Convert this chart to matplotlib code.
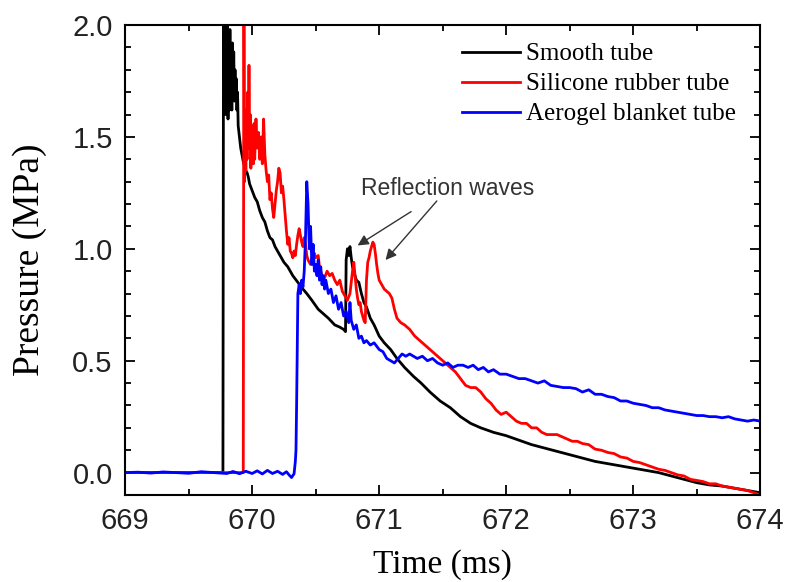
import matplotlib
matplotlib.use('Agg')
import matplotlib.pyplot as plt
from matplotlib.ticker import MultipleLocator

# Smooth tube
smooth_t = [669.00, 669.20, 669.40, 669.60, 669.77, 669.775, 669.78, 669.785, 669.79, 669.795,
            669.80, 669.805, 669.81, 669.815, 669.82, 669.825, 669.83, 669.835, 669.84, 669.845,
            669.85, 669.855, 669.86, 669.865, 669.87, 669.875, 669.88, 669.885, 669.89, 669.90,
            669.91, 669.92, 669.93, 669.94, 669.95, 669.96, 669.97, 669.98, 670.00, 670.02,
            670.04, 670.06, 670.08, 670.10, 670.12, 670.14, 670.16, 670.18, 670.20, 670.22,
            670.25, 670.28, 670.32, 670.36, 670.40, 670.43, 670.47, 670.52, 670.56, 670.60,
            670.65, 670.69, 670.72, 670.735, 670.74, 670.75, 670.76, 670.77, 670.78, 670.79,
            670.80, 670.82, 670.84, 670.86, 670.88, 670.90, 670.93, 670.96, 671.00, 671.04,
            671.09, 671.14, 671.20, 671.27, 671.33, 671.40, 671.48, 671.56, 671.64, 671.72,
            671.80, 671.90, 672.00, 672.10, 672.20, 672.30, 672.40, 672.50, 672.60, 672.70,
            672.80, 672.90, 673.00, 673.10, 673.20, 673.30, 673.40, 673.50, 673.60, 673.70,
            673.80, 673.90, 674.00]
smooth_p = [0.00, 0.00, 0.00, 0.00, 0.00, 2.30, 1.75, 2.10, 1.60, 1.95,
            1.65, 2.05, 1.58, 1.90, 1.62, 1.98, 1.70, 1.85, 1.62, 1.92,
            1.70, 1.88, 1.66, 1.80, 1.68, 1.76, 1.62, 1.70, 1.55, 1.50,
            1.45, 1.42, 1.39, 1.37, 1.35, 1.34, 1.32, 1.29, 1.26, 1.23,
            1.21, 1.17, 1.14, 1.12, 1.08, 1.05, 1.04, 1.01, 0.99, 0.97,
            0.94, 0.92, 0.88, 0.85, 0.82, 0.80, 0.77, 0.73, 0.71, 0.69,
            0.66, 0.65, 0.64, 0.63, 0.95, 1.00, 0.97, 1.01, 0.96, 0.92,
            0.90, 0.86, 0.85, 0.80, 0.76, 0.74, 0.69, 0.66, 0.61, 0.58,
            0.55, 0.51, 0.47, 0.43, 0.40, 0.36, 0.32, 0.29, 0.25, 0.22,
            0.20, 0.18, 0.165, 0.145, 0.125, 0.11, 0.095, 0.08, 0.065, 0.05,
            0.04, 0.03, 0.02, 0.01, 0.00, -0.015, -0.03, -0.045, -0.055, -0.06,
            -0.07, -0.08, -0.09]

# Silicone rubber tube
rubber_t = [669.00, 669.30, 669.60, 669.93, 669.935, 669.94, 669.945, 669.95, 669.955, 669.96,
            669.965, 669.97, 669.975, 669.98, 669.985, 669.99, 669.995, 670.00, 670.005, 670.01,
            670.015, 670.02, 670.03, 670.04, 670.05, 670.06, 670.07, 670.08, 670.09, 670.10,
            670.11, 670.12, 670.13, 670.14, 670.15, 670.16, 670.17, 670.18, 670.19, 670.20,
            670.21, 670.22, 670.23, 670.24, 670.25, 670.26, 670.27, 670.28, 670.29, 670.30,
            670.31, 670.32, 670.33, 670.34, 670.35, 670.36, 670.37, 670.38, 670.39, 670.40,
            670.41, 670.42, 670.43, 670.44, 670.45, 670.46, 670.47, 670.48, 670.49, 670.50,
            670.52, 670.53, 670.55, 670.57, 670.59, 670.61, 670.63, 670.65, 670.67, 670.69,
            670.71, 670.73, 670.75, 670.77, 670.79, 670.80, 670.81, 670.82, 670.83, 670.84,
            670.85, 670.86, 670.87, 670.88, 670.89, 670.90, 670.91, 670.92, 670.93, 670.94,
            670.95, 670.96, 670.97, 670.98, 670.99, 671.00, 671.02, 671.04, 671.06, 671.08,
            671.10, 671.12, 671.14, 671.17, 671.20, 671.24, 671.28, 671.32, 671.36, 671.40,
            671.44, 671.48, 671.52, 671.56, 671.60, 671.64, 671.68, 671.72, 671.76, 671.80,
            671.84, 671.88, 671.92, 671.96, 672.00, 672.04, 672.08, 672.12, 672.16, 672.20,
            672.24, 672.28, 672.32, 672.36, 672.40, 672.44, 672.48, 672.52, 672.56, 672.60,
            672.65, 672.70, 672.75, 672.80, 672.85, 672.90, 672.95, 673.00, 673.05, 673.10,
            673.15, 673.20, 673.25, 673.30, 673.35, 673.40, 673.45, 673.50, 673.55, 673.60,
            673.65, 673.70, 673.75, 673.80, 673.85, 673.90, 673.95, 674.00]
rubber_p = [0.00, 0.00, 0.00, 0.00, 2.30, 1.30, 1.62, 1.35, 1.58, 1.40,
            1.70, 1.45, 1.82, 1.50, 1.60, 1.36, 1.55, 1.42, 1.52, 1.38,
            1.56, 1.40, 1.58, 1.45, 1.52, 1.40, 1.50, 1.38, 1.58, 1.42,
            1.35, 1.30, 1.33, 1.22, 1.25, 1.18, 1.14, 1.20, 1.26, 1.30,
            1.36, 1.34, 1.25, 1.28, 1.22, 1.15, 1.08, 1.02, 1.05, 0.99,
            0.98, 0.96, 0.99, 0.97, 1.02, 1.06, 1.09, 1.06, 1.03, 1.01,
            1.05, 1.02, 0.97, 0.95, 0.94, 0.93, 0.96, 0.95, 0.98, 0.96,
            0.97, 0.92, 0.88, 0.87, 0.90, 0.88, 0.89, 0.86, 0.84, 0.86,
            0.81, 0.79, 0.77, 0.80, 0.90, 0.94, 0.88, 0.82, 0.78, 0.75,
            0.76, 0.72, 0.70, 0.68, 0.67, 0.86, 0.94, 0.96, 0.99, 1.01,
            1.03, 1.02, 0.98, 0.93, 0.89, 0.86, 0.84, 0.82, 0.81, 0.80,
            0.78, 0.73, 0.69, 0.67, 0.66, 0.64, 0.61, 0.59, 0.57, 0.55,
            0.53, 0.51, 0.49, 0.47, 0.45, 0.42, 0.39, 0.38, 0.38, 0.36,
            0.33, 0.31, 0.28, 0.26, 0.27, 0.25, 0.23, 0.22, 0.22, 0.20,
            0.20, 0.18, 0.17, 0.17, 0.17, 0.16, 0.15, 0.14, 0.14, 0.13,
            0.125, 0.105, 0.10, 0.09, 0.085, 0.07, 0.065, 0.05, 0.045, 0.035,
            0.025, 0.015, 0.01, 0.00, -0.01, -0.015, -0.03, -0.035, -0.04, -0.05,
            -0.05, -0.06, -0.065, -0.07, -0.075, -0.08, -0.09, -0.10]

# Aerogel blanket tube
aerogel_t = [669.00, 669.10, 669.20, 669.30, 669.40, 669.50, 669.60, 669.70, 669.80, 669.85,
             669.90, 669.95, 670.00, 670.04, 670.08, 670.12, 670.16, 670.20, 670.24, 670.27,
             670.29, 670.31, 670.33, 670.34, 670.345, 670.35, 670.355, 670.36, 670.37, 670.38,
             670.39, 670.40, 670.41, 670.42, 670.43, 670.44, 670.45, 670.46, 670.47, 670.48,
             670.49, 670.50, 670.51, 670.52, 670.53, 670.54, 670.55, 670.56, 670.57, 670.58,
             670.60, 670.62, 670.64, 670.66, 670.68, 670.70, 670.72, 670.74, 670.76, 670.77,
             670.78, 670.80, 670.82, 670.84, 670.86, 670.88, 670.90, 670.93, 670.96, 671.00,
             671.03, 671.06, 671.09, 671.12, 671.15, 671.18, 671.21, 671.24, 671.27, 671.30,
             671.34, 671.38, 671.42, 671.46, 671.50, 671.54, 671.58, 671.62, 671.66, 671.70,
             671.74, 671.78, 671.82, 671.86, 671.90, 671.95, 672.00, 672.05, 672.10, 672.15,
             672.20, 672.25, 672.30, 672.35, 672.40, 672.45, 672.50, 672.55, 672.60, 672.65,
             672.70, 672.75, 672.80, 672.85, 672.90, 672.95, 673.00, 673.05, 673.10, 673.15,
             673.20, 673.25, 673.30, 673.35, 673.40, 673.45, 673.50, 673.55, 673.60, 673.65,
             673.70, 673.75, 673.80, 673.85, 673.90, 673.95, 674.00]
aerogel_p = [0.00, 0.002, -0.002, 0.003, 0.00, -0.003, 0.004, 0.00, -0.004, 0.005,
             -0.005, 0.006, -0.004, 0.008, -0.006, 0.010, -0.004, 0.006, -0.008, 0.004,
             -0.010, -0.022, -0.005, 0.05, 0.10, 0.30, 0.55, 0.80, 0.84, 0.80,
             0.86, 0.83, 0.90, 1.05, 1.30, 1.20, 1.00, 1.10, 0.93, 1.02,
             0.90, 0.93, 0.88, 0.95, 0.86, 0.92, 0.84, 0.88, 0.82, 0.86,
             0.80, 0.82, 0.76, 0.79, 0.73, 0.76, 0.70, 0.72, 0.67, 0.76,
             0.68, 0.64, 0.66, 0.60, 0.61, 0.58, 0.59, 0.57, 0.58, 0.55,
             0.54, 0.51, 0.50, 0.49, 0.51, 0.53, 0.52, 0.53, 0.52, 0.51,
             0.52, 0.50, 0.51, 0.49, 0.48, 0.49, 0.47, 0.48, 0.48, 0.47,
             0.48, 0.46, 0.47, 0.45, 0.46, 0.44, 0.44, 0.43, 0.42, 0.42,
             0.41, 0.40, 0.41, 0.39, 0.385, 0.38, 0.38, 0.375, 0.36, 0.37,
             0.35, 0.35, 0.34, 0.335, 0.32, 0.32, 0.31, 0.305, 0.30, 0.29,
             0.29, 0.28, 0.275, 0.27, 0.265, 0.26, 0.255, 0.255, 0.25, 0.25,
             0.245, 0.25, 0.24, 0.235, 0.23, 0.235, 0.23]

fig = plt.figure(figsize=(7.87, 5.82), dpi=100)
ax = fig.add_axes([0.159, 0.1495, 0.807, 0.8075])

ax.plot(smooth_t, smooth_p, color='black', lw=2, label='Smooth tube')
ax.plot(rubber_t, rubber_p, color='red', lw=2, label='Silicone rubber tube')
ax.plot(aerogel_t, aerogel_p, color='blue', lw=2, label='Aerogel blanket tube')

ax.set_xlim(669, 674)
ax.set_ylim(-0.1, 2.0)
ax.xaxis.set_major_locator(MultipleLocator(1))
ax.xaxis.set_minor_locator(MultipleLocator(0.5))
ax.yaxis.set_major_locator(MultipleLocator(0.5))
ax.yaxis.set_minor_locator(MultipleLocator(0.1))
ax.tick_params(which='both', direction='in', top=True, right=True, width=1.3)
ax.tick_params(which='major', length=7, labelsize=21, pad=9, labelcolor='#222222')
ax.tick_params(which='minor', length=4)
for lab in ax.get_xticklabels() + ax.get_yticklabels():
    lab.set_fontfamily('Liberation Sans')
ax.yaxis.set_major_formatter(plt.FormatStrFormatter('%.1f'))
for s in ax.spines.values():
    s.set_linewidth(1.5)

ax.set_xlabel('Time (ms)', fontfamily='Liberation Serif', fontsize=24, labelpad=10)
ax.set_ylabel('Pressure (MPa)', fontfamily='Liberation Serif', fontsize=27, labelpad=18)

ax.legend(loc='upper left', bbox_to_anchor=(0.531, 0.962), frameon=False,
          prop={'family': 'Liberation Serif', 'size': 18}, handlelength=2.3,
          handletextpad=0.25, labelspacing=0.3, borderpad=0, borderaxespad=0)

ax.annotate('Reflection waves', xy=(670.83, 1.015), xytext=(671.54, 1.27),
            ha='center', va='center', fontsize=16.5, fontfamily='Liberation Sans',
            color='#333333',
            arrowprops=dict(arrowstyle='-|>', color='#333333', lw=1, mutation_scale=16,
                            shrinkA=12, shrinkB=0))
ax.annotate('', xy=(671.05, 0.95), xytext=(671.54, 1.27),
            arrowprops=dict(arrowstyle='-|>', color='#333333', lw=1, mutation_scale=16,
                            shrinkA=12, shrinkB=0))

fig.savefig('out.png', dpi=100)
